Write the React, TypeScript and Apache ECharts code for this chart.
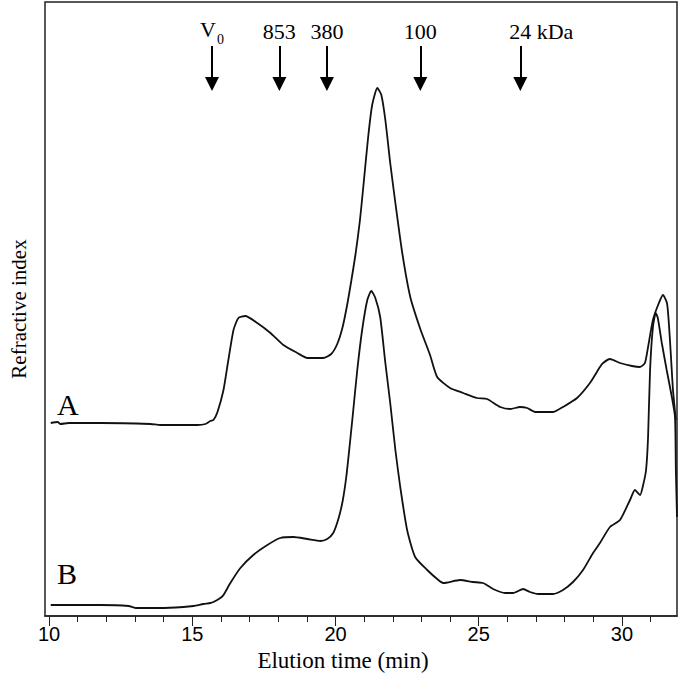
import React, { useEffect, useRef } from "react";
import * as echarts from "echarts";

// Elution time (min) and refractive-index signal (arbitrary units) for trace A
const timesA = [10.06, 10.3, 10.4, 10.68, 11.8, 13.54, 13.89, 15.18, 15.46, 15.63, 15.74, 15.88, 16.09, 16.26, 16.44, 16.61, 16.85, 17.27, 17.73, 18.18, 18.67, 19.02, 19.57, 19.85, 20.06, 20.24, 20.4, 20.55, 20.7, 20.85, 20.97, 21.14, 21.28, 21.46, 21.6, 21.74, 21.91, 22.09, 22.33, 22.61, 22.96, 23.3, 23.55, 24.0, 24.46, 24.94, 25.29, 25.75, 26.1, 26.44, 26.69, 26.97, 27.6, 27.94, 28.43, 28.88, 29.23, 29.34, 29.58, 29.93, 30.35, 30.63, 30.8, 30.91, 31.08, 31.26, 31.43, 31.57, 31.64, 31.71, 31.78, 31.88];
const signalA = [193, 194, 192, 193, 193, 192, 191, 191, 192, 195, 196, 204, 226, 256, 286, 298, 300, 293, 283, 271, 263, 258, 258, 262, 272, 288, 310, 335, 362, 395, 429, 479, 511, 528, 521, 496, 453, 413, 363, 319, 287, 261, 239, 228, 223, 218, 217, 209, 207, 209, 208, 204, 204, 209, 218, 233, 249, 253, 257, 253, 250, 249, 253, 269, 296, 311, 321, 313, 291, 259, 226, 196];

// Trace B
const timesB = [10.06, 11.8, 12.78, 13.02, 13.89, 14.69, 15.04, 15.39, 15.63, 15.74, 15.98, 16.09, 16.33, 16.68, 17.13, 17.62, 18.07, 18.53, 19.02, 19.47, 19.71, 19.92, 20.1, 20.25, 20.38, 20.5, 20.6, 20.76, 20.93, 21.11, 21.25, 21.39, 21.56, 21.74, 21.91, 22.09, 22.26, 22.5, 22.78, 23.2, 23.59, 23.76, 24.35, 24.8, 25.15, 25.5, 25.92, 26.2, 26.55, 26.79, 27.07, 27.59, 27.94, 28.29, 28.64, 28.99, 29.23, 29.58, 29.93, 30.28, 30.45, 30.63, 30.73, 30.84, 30.91, 30.98, 31.08, 31.18, 31.25, 31.39, 31.56, 31.74, 31.85, 31.88, 31.92];
const signalB = [11, 11, 10, 8, 8, 9, 10, 12, 13, 14, 18, 21, 33, 48, 61, 71, 78, 79, 77, 75, 77, 83, 97, 115, 140, 172, 200, 246, 286, 316, 325, 318, 299, 253, 213, 166, 129, 86, 59, 46, 36, 33, 36, 34, 33, 27, 23, 23, 27, 24, 22, 22, 26, 34, 46, 63, 73, 89, 96, 116, 126, 121, 130, 146, 179, 246, 289, 303, 298, 273, 246, 219, 199, 146, 99];

// Molecular-weight markers
const markerTimes = [15.69, 18.04, 19.7, 22.96, 26.45];
const markerLabels = ["{v|V}{s|0}", "853", "380", "100", "24 kDa"];

const majorTicks = [10, 15, 20, 25, 30];
const minorTicks = [10, 11, 12, 13, 14, 15, 16, 17, 18, 19, 20, 21, 22, 23, 24, 25, 26, 27, 28, 29, 30, 31];

const SERIF = "'Liberation Serif', 'Times New Roman', serif";

export default function App() {
  const ref = useRef<HTMLDivElement>(null);

  useEffect(() => {
    if (!ref.current) return;
    const chart = echarts.init(ref.current, undefined, { renderer: "svg" });
    const arrowTop = 570;
    const arrowEnd = 532;
    const markData = markerTimes.map((t, i) => {
      const isLast = i === markerLabels.length - 1;
      return [
        {
          coord: [t, arrowTop],
          label: {
            formatter: markerLabels[i],
            padding: isLast ? [0, 0, 0, 42] : 0,
          },
        },
        { coord: [t, arrowEnd] },
      ];
    });

    const lineStyle = { color: "#111", width: 1.8 };
    chart.setOption({
      animation: false,
      backgroundColor: "#fff",
      grid: {
        left: 44,
        right: 3,
        top: 2,
        bottom: 66,
        show: true,
        borderColor: "#222",
        borderWidth: 1.5,
        backgroundColor: "transparent",
      },
      xAxis: [
        {
          type: "value",
          min: 9.86,
          max: 31.92,
          axisLine: { show: true, onZero: false, lineStyle: { color: "#222", width: 1.5 } },
          axisTick: { show: true, customValues: minorTicks, length: 6, lineStyle: { color: "#222", width: 1 } },
          axisLabel: {
            customValues: majorTicks,
            fontFamily: "'Liberation Sans', Arial, sans-serif",
            fontSize: 20,
            color: "#000",
            margin: 8,
          },
          splitLine: { show: false },
          name: "Elution time (min)",
          nameLocation: "middle",
          nameGap: 33,
          nameTextStyle: { fontFamily: SERIF, fontSize: 23, color: "#000", padding: [0, 36, 0, 0] },
        },
        {
          type: "value",
          position: "bottom",
          min: 9.86,
          max: 31.92,
          axisLine: { show: false },
          axisTick: { show: true, customValues: majorTicks, length: 10, lineStyle: { color: "#222", width: 1 } },
          axisLabel: { show: false },
          splitLine: { show: false },
        },
      ],
      yAxis: {
        type: "value",
        min: 0,
        max: 614,
        axisLine: { show: false },
        axisTick: { show: false },
        axisLabel: { show: false },
        splitLine: { show: false },
        name: "Refractive index",
        nameLocation: "middle",
        nameGap: 16,
        nameTextStyle: { fontFamily: SERIF, fontSize: 21, color: "#000" },
      },
      series: [
        {
          name: "A",
          type: "line",
          data: timesA.map((t, i) => [t, signalA[i]]),
          showSymbol: false,
          smooth: 0.2,
          lineStyle,
          markLine: {
            silent: true,
            animation: false,
            symbol: ["none", "triangle"],
            symbolSize: 14,
            lineStyle: { color: "#000", width: 2, type: "solid" },
            label: {
              show: true,
              position: "start",
              distance: 4,
              fontFamily: SERIF,
              fontSize: 22,
              color: "#000",
              rich: {
                v: { fontFamily: SERIF, fontSize: 22, color: "#000", lineHeight: 24, verticalAlign: "top" },
                s: { fontFamily: SERIF, fontSize: 14, color: "#000", lineHeight: 14, padding: [14, 0, 0, 1], verticalAlign: "top" },
              },
            },
            data: markData,
          },
        },
        {
          name: "B",
          type: "line",
          data: timesB.map((t, i) => [t, signalB[i]]),
          showSymbol: false,
          smooth: 0.2,
          lineStyle,
        },
      ],
      graphic: [
        { type: "text", left: 57, top: 389, style: { text: "A", fontFamily: SERIF, fontSize: 30, fill: "#000" } },
        { type: "text", left: 57, top: 558, style: { text: "B", fontFamily: SERIF, fontSize: 30, fill: "#000" } },
      ],
    });
    return () => chart.dispose();
  }, []);

  return (
    <div
      ref={ref}
      style={{ position: "absolute", left: 0, top: 0, width: 680, height: 682 }}
    />
  );
}
